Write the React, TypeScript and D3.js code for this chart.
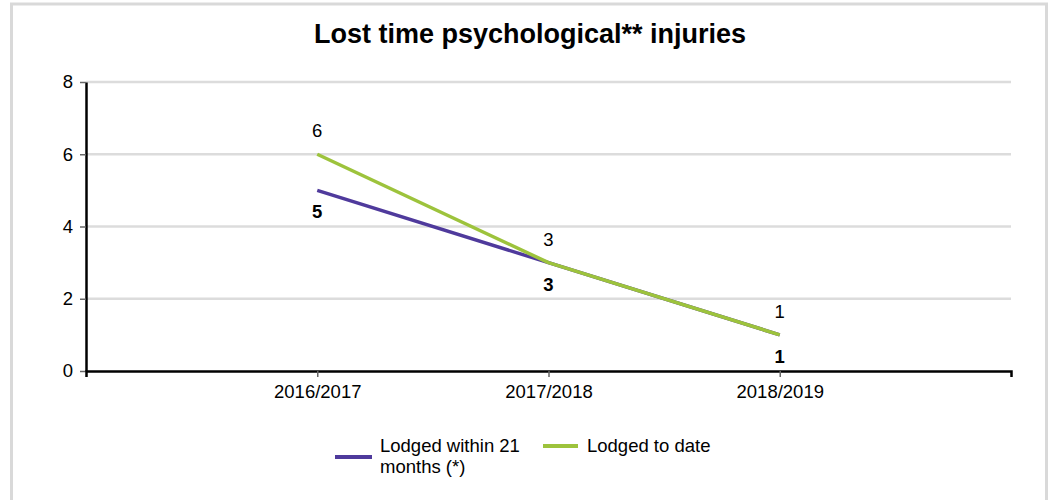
import React, { useEffect, useRef } from 'react';
import * as d3 from 'd3';

const years = ['2016/2017', '2017/2018', '2018/2019'];
const within21 = [5, 3, 1];
const toDate = [6, 3, 1];
const yTicks = [0, 2, 4, 6, 8];
const seriesNames = ['Lodged within 21 months (*)', 'Lodged to date'];
const seriesColors = ['#4f3a9c', '#9dc33c'];

const App = () => {
  const svgRef = useRef<SVGSVGElement>(null);

  useEffect(() => {
    const width = 1053;
    const height = 500;
    const margin = { top: 82, right: 42, bottom: 129, left: 86 };
    const font = 'Arial, "Liberation Sans", sans-serif';
    const fs = '18.5px';

    const svg = d3.select(svgRef.current);
    svg.selectAll('*').remove();

    // outer frame
    svg
      .append('rect')
      .attr('x', 11.5)
      .attr('y', 4)
      .attr('width', 1035)
      .attr('height', 520)
      .attr('fill', '#fff')
      .attr('stroke', '#d9d9d9')
      .attr('stroke-width', 3);

    const xScale = d3
      .scalePoint()
      .domain(years)
      .range([margin.left, width - margin.right])
      .padding(1);

    const yScale = d3
      .scaleLinear()
      .domain([0, 8])
      .range([height - margin.bottom, margin.top]);

    // title
    svg
      .append('text')
      .attr('x', 530)
      .attr('y', 43)
      .attr('text-anchor', 'middle')
      .style('font-family', font)
      .style('font-size', '27px')
      .style('font-weight', 'bold')
      .text('Lost time psychological** injuries');

    // gridlines
    svg
      .append('g')
      .selectAll('line')
      .data(yTicks.slice(1))
      .enter()
      .append('line')
      .attr('x1', margin.left)
      .attr('x2', width - margin.right)
      .attr('y1', (d) => yScale(d))
      .attr('y2', (d) => yScale(d))
      .attr('stroke', '#dcdcdc')
      .attr('stroke-width', 2.5);

    // y axis
    const yAxis = svg
      .append('g')
      .attr('transform', `translate(${margin.left}, 0)`)
      .call(d3.axisLeft(yScale).tickValues(yTicks).tickSize(6).tickSizeOuter(0).tickPadding(7));
    yAxis.select('.domain').attr('stroke', '#000').attr('stroke-width', 2.5);
    yAxis.selectAll('.tick line').attr('stroke', '#666').attr('stroke-width', 1.5);
    yAxis
      .selectAll('text')
      .style('font-family', font)
      .style('font-size', fs)
      .attr('fill', '#000');

    // x axis
    const xAxis = svg
      .append('g')
      .attr('transform', `translate(0, ${height - margin.bottom})`)
      .call(d3.axisBottom(xScale).tickSize(6).tickSizeOuter(6).tickPadding(8));
    xAxis.select('.domain').attr('stroke', '#000').attr('stroke-width', 2.5);
    xAxis.selectAll('.tick line').attr('stroke', '#666').attr('stroke-width', 1.5);
    xAxis
      .selectAll('text')
      .style('font-family', font)
      .style('font-size', fs)
      .attr('fill', '#000');

    const line = d3
      .line<number>()
      .x((d, i) => xScale(years[i]) as number)
      .y((d) => yScale(d));

    const series = [within21, toDate];
    series.forEach((vals, si) => {
      svg
        .append('path')
        .datum(vals)
        .attr('fill', 'none')
        .attr('stroke', seriesColors[si])
        .attr('stroke-width', 3.5)
        .attr('stroke-linejoin', 'round')
        .attr('d', line);
    });

    // labels: "to date" above, "within 21" below (bold)
    svg
      .append('g')
      .selectAll('text')
      .data(toDate)
      .enter()
      .append('text')
      .attr('x', (d, i) => xScale(years[i]) as number)
      .attr('y', (d) => yScale(d) - 17)
      .attr('text-anchor', 'middle')
      .style('font-family', font)
      .style('font-size', fs)
      .text((d) => d);

    svg
      .append('g')
      .selectAll('text')
      .data(within21)
      .enter()
      .append('text')
      .attr('x', (d, i) => xScale(years[i]) as number)
      .attr('y', (d) => yScale(d) + 28)
      .attr('text-anchor', 'middle')
      .style('font-family', font)
      .style('font-size', fs)
      .style('font-weight', 'bold')
      .text((d) => d);

    // legend
    const legend = svg.append('g');
    legend
      .append('line')
      .attr('x1', 335)
      .attr('x2', 372)
      .attr('y1', 457)
      .attr('y2', 457)
      .attr('stroke', seriesColors[0])
      .attr('stroke-width', 4);
    const lt = legend
      .append('text')
      .attr('x', 380)
      .attr('y', 452)
      .style('font-family', font)
      .style('font-size', fs);
    lt.append('tspan').attr('x', 380).text('Lodged within 21');
    lt.append('tspan').attr('x', 380).attr('dy', 21).text('months (*)');

    legend
      .append('line')
      .attr('x1', 543)
      .attr('x2', 578)
      .attr('y1', 446)
      .attr('y2', 446)
      .attr('stroke', seriesColors[1])
      .attr('stroke-width', 4);
    legend
      .append('text')
      .attr('x', 587)
      .attr('y', 452)
      .style('font-family', font)
      .style('font-size', fs)
      .text(seriesNames[1]);
  }, []);

  return (
    <svg
      ref={svgRef}
      width={1053}
      height={500}
      style={{ position: 'absolute', left: 0, top: 0, background: '#fff' }}
    ></svg>
  );
};

export default App;
